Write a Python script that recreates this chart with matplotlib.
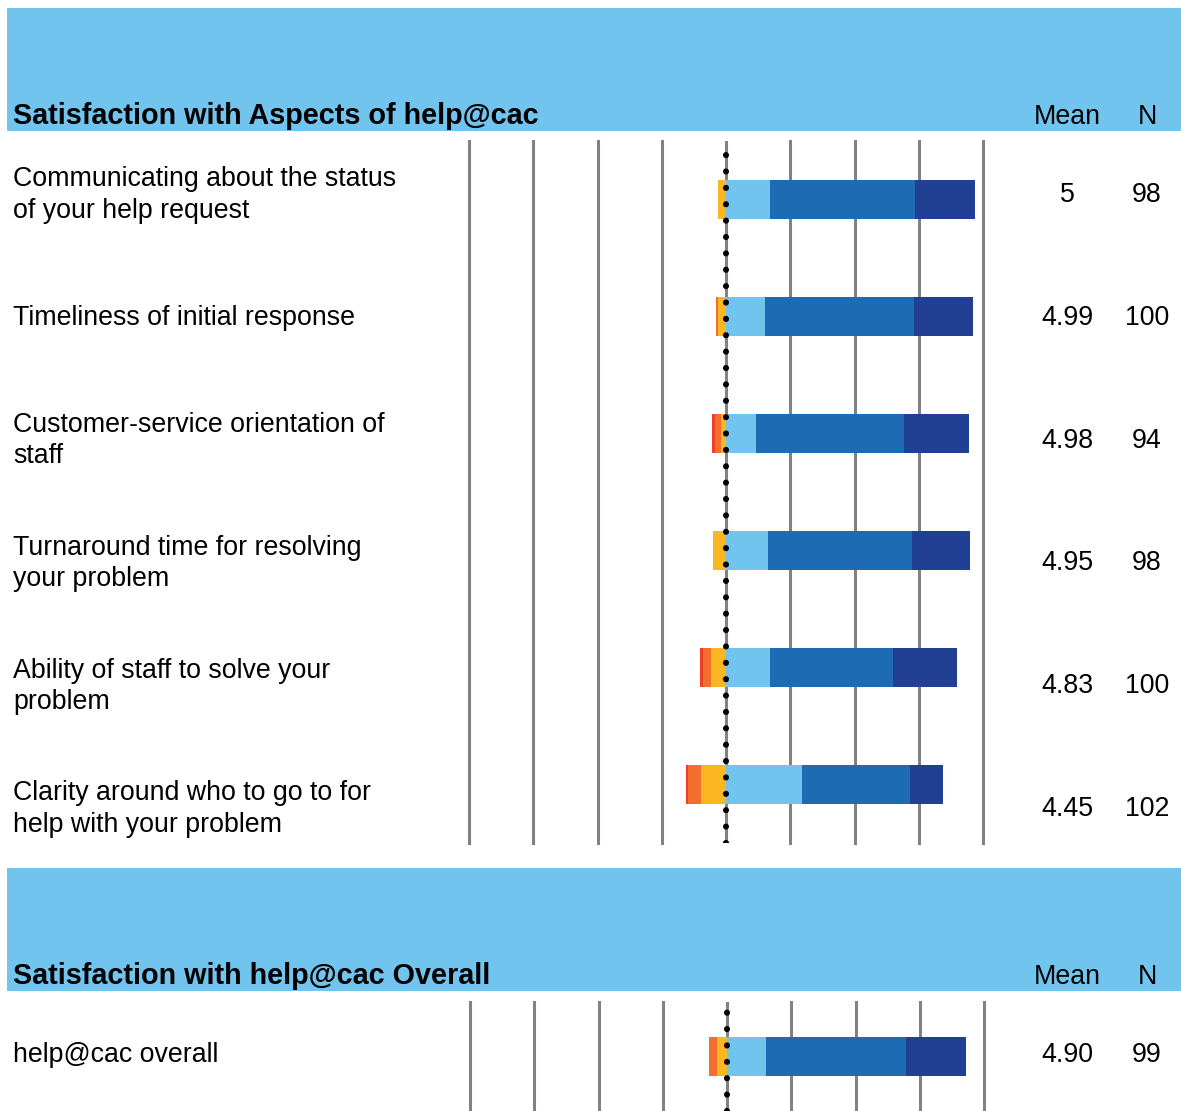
import numpy as np
import matplotlib
matplotlib.use("Agg")
import matplotlib.pyplot as plt
from matplotlib.patches import Rectangle

plt.rcParams["font.family"] = ["Liberation Sans", "DejaVu Sans"]

# ---- data -------------------------------------------------------------
aspects = [
    "Communicating about the status\nof your help request",
    "Timeliness of initial response",
    "Customer-service orientation of\nstaff",
    "Turnaround time for resolving\nyour problem",
    "Ability of staff to solve your\nproblem",
    "Clarity around who to go to for\nhelp with your problem",
]
# percent of responses at each level (1 = very dissatisfied ... 6 = very satisfied)
lvl1 = [0.0, 0.0, 1.1, 0.0, 1.0, 1.0]
lvl2 = [0.0, 1.0, 2.1, 0.0, 3.0, 4.9]
lvl3 = [3.1, 3.0, 2.1, 5.1, 6.0, 9.8]
lvl4 = [17.3, 15.0, 11.7, 16.3, 17.0, 29.4]
lvl5 = [56.1, 58.0, 57.4, 56.1, 48.0, 42.2]
lvl6 = [23.5, 23.0, 25.5, 22.4, 25.0, 12.7]
means = ["5", "4.99", "4.98", "4.95", "4.83", "4.45"]
counts = ["98", "100", "94", "98", "100", "102"]

overall_label = ["help@cac overall"]
overall_lvl1 = [0.0]
overall_lvl2 = [3.0]
overall_lvl3 = [4.0]
overall_lvl4 = [15.2]
overall_lvl5 = [54.5]
overall_lvl6 = [23.2]
overall_mean = ["4.90"]
overall_n = ["99"]

grid_ticks = [-100, -75, -50, -25, 25, 50, 75, 100]

# ---- styling ----------------------------------------------------------
W, H = 1181, 1111
HEADER = "#71C4EE"
COLORS = ["#EE4124", "#F36D2C", "#FBB722", "#71C4EE", "#1D6CB3", "#213F93"]
GRID = "#808285"
FS = 19.3

fig = plt.figure(figsize=(W / 100, H / 100), dpi=100)

# full-figure layer in pixel units for bands and text
bg = fig.add_axes([0, 0, 1, 1])
bg.set_xlim(0, W)
bg.set_ylim(H, 0)
bg.axis("off")


def px_axes(x0, y0, x1, y1):
    return fig.add_axes([x0 / W, 1 - y1 / H, (x1 - x0) / W, (y1 - y0) / H])


def header(y0, y1, title):
    bg.add_patch(Rectangle((7, y0), W - 7, y1 - y0, color=HEADER, lw=0, zorder=0))
    bg.text(13, y1 - 7, title, fontsize=20.7, fontweight="bold", va="baseline", ha="left")
    bg.text(1067, y1 - 7, "Mean", fontsize=FS, va="baseline", ha="center")
    bg.text(1147, y1 - 7, "N", fontsize=FS, va="baseline", ha="center")


def draw_bars(ax, levels, nrows):
    y = np.arange(nrows)
    l1, l2, l3, l4, l5, l6 = [np.asarray(v, float) for v in levels]
    # dissatisfied side grows leftwards from zero
    ax.barh(y, -l3, left=0, height=0.34, color=COLORS[2], lw=0, zorder=2)
    ax.barh(y, -l2, left=-l3, height=0.34, color=COLORS[1], lw=0, zorder=2)
    ax.barh(y, -l1, left=-(l3 + l2), height=0.34, color=COLORS[0], lw=0, zorder=2)
    # satisfied side grows rightwards
    ax.barh(y, l4, left=0, height=0.34, color=COLORS[3], lw=0, zorder=2)
    ax.barh(y, l5, left=l4, height=0.34, color=COLORS[4], lw=0, zorder=2)
    ax.barh(y, l6, left=l4 + l5, height=0.34, color=COLORS[5], lw=0, zorder=2)
    for t in grid_ticks:
        ax.axvline(t, color=GRID, lw=2.2, zorder=1, clip_on=False)
    ax.axvline(0, color=GRID, lw=2.2, zorder=1)
    ax.axvline(0, color="black", lw=4.4, dashes=(0.01, 2.67),
               dash_capstyle="round", zorder=3)
    ax.set_xlim(-100, 100)
    ax.axis("off")


# ---- section 1 --------------------------------------------------------
header(8, 131, "Satisfaction with Aspects of help@cac")
ax1 = px_axes(469, 141, 983, 843)
draw_bars(ax1, [lvl1, lvl2, lvl3, lvl4, lvl5, lvl6], len(aspects))
ax1.set_ylim(len(aspects) - 0.5, -0.5)

for i, (lab, m, n) in enumerate(zip(aspects, means, counts)):
    yc = 195 + 122.8 * i
    bg.text(13, yc, lab, fontsize=FS, va="center", ha="left", linespacing=1.27)
    bg.text(1067, yc, m, fontsize=FS, va="center", ha="center")
    bg.text(1147, yc, n, fontsize=FS, va="center", ha="center")

# ---- section 2 --------------------------------------------------------
header(868, 991, "Satisfaction with help@cac Overall")
ax2 = px_axes(470, 1002, 984, 1111)
draw_bars(ax2, [overall_lvl1, overall_lvl2, overall_lvl3, overall_lvl4,
                overall_lvl5, overall_lvl6], 1)
ax2.set_ylim(0.465, -0.467)

bg.text(13, 1055, overall_label[0], fontsize=FS, va="center", ha="left")
bg.text(1067, 1055, overall_mean[0], fontsize=FS, va="center", ha="center")
bg.text(1147, 1055, overall_n[0], fontsize=FS, va="center", ha="center")

fig.savefig("out.png", dpi=100)
